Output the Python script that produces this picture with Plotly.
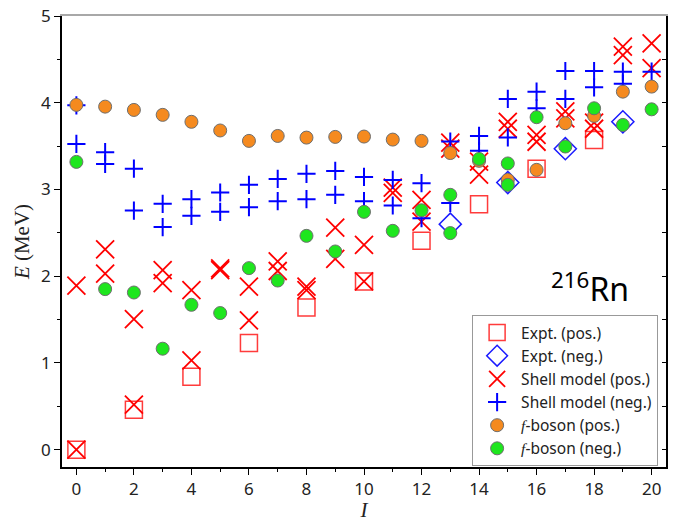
import plotly.graph_objects as go

# Experimental, positive parity
expt_pos_I = [0, 2, 4, 6, 8, 10, 12, 14, 16, 18]
expt_pos_E = [0.0, 0.46, 0.84, 1.23, 1.64, 1.94, 2.41, 2.83, 3.24, 3.57]

# Experimental, negative parity
expt_neg_I = [13, 15, 17, 19]
expt_neg_E = [2.60, 3.08, 3.47, 3.78]

# Shell model, positive parity
sm_pos_I = [0, 0, 1, 1, 2, 2, 3, 3, 4, 4, 5, 5, 6, 6, 7, 7, 8, 8, 9, 9, 10, 10,
            11, 11, 12, 12, 13, 13, 14, 14, 15, 15, 16, 16, 17, 17, 18, 18, 19, 19, 20, 20]
sm_pos_E = [0.0, 1.89, 2.03, 2.31, 0.52, 1.505, 1.92, 2.07, 1.03, 1.84, 2.07, 2.09,
            1.49, 1.88, 2.06, 2.17, 1.84, 1.88, 2.20, 2.56, 1.94, 2.36,
            2.96, 3.02, 2.63, 2.88, 3.47, 3.54, 3.17, 3.32, 3.70, 3.78, 3.55, 3.63,
            3.82, 3.90, 3.70, 3.77, 4.55, 4.646, 4.40, 4.685]

# Shell model, negative parity
sm_neg_I = [0, 0, 1, 1, 2, 2, 3, 3, 4, 4, 5, 5, 6, 6, 7, 7, 8, 8, 9, 9, 10, 10,
            11, 11, 12, 12, 13, 13, 14, 14, 15, 15, 16, 16, 17, 17, 18, 18, 19, 19, 20]
sm_neg_E = [3.525, 3.97, 3.295, 3.43, 2.757, 3.24, 2.566, 2.834, 2.696, 2.888,
            2.742, 2.965, 2.796, 3.053, 2.865, 3.122, 2.888, 3.18, 2.938, 3.214,
            2.865, 3.145, 2.815, 3.11, 2.669, 3.072, 2.845, 3.552, 3.445, 3.617,
            3.60, 4.044, 3.936, 4.128, 4.044, 4.366, 4.178, 4.366, 4.22, 4.358, 4.358]

# f-boson, positive parity
fb_pos_I = list(range(0, 21))
fb_pos_E = [3.975, 3.955, 3.917, 3.86, 3.78, 3.68, 3.56, 3.617, 3.598, 3.606, 3.61,
            3.575, 3.56, 3.42, 3.33, 3.11, 3.226, 3.764, 3.848, 4.128, 4.186]

# f-boson, negative parity
fb_neg_I = [0, 1, 2, 3, 4, 5, 6, 7, 8, 9, 10, 11, 12, 13, 13, 14, 15, 15, 16, 17, 18, 19, 20]
fb_neg_E = [3.318, 1.851, 1.812, 1.164, 1.67, 1.575, 2.093, 1.95, 2.465, 2.285,
            2.742, 2.523, 2.76, 2.938, 2.497, 3.352, 3.30, 3.053, 3.833, 3.495,
            3.936, 3.744, 3.924]

names = ["Expt. (pos.)", "Expt. (neg.)", "Shell model (pos.)", "Shell model (neg.)",
         "<i style='font-family:Liberation Serif'>f</i>-boson (pos.)",
         "<i style='font-family:Liberation Serif'>f</i>-boson (neg.)"]

fig = go.Figure()
# empty helper trace so the mirrored frame axes (top / right) get drawn
fig.add_trace(go.Scatter(x=[], y=[], xaxis="x2", yaxis="y2", mode="markers",
                         showlegend=False, hoverinfo="skip"))
fig.add_trace(go.Scatter(x=expt_pos_I, y=expt_pos_E, mode="markers", name=names[0],
                         marker=dict(symbol="square-open", size=17, color="#ff3b3b",
                                     line=dict(width=1.5, color="#ff3b3b"))))
fig.add_trace(go.Scatter(x=expt_neg_I, y=expt_neg_E, mode="markers", name=names[1],
                         marker=dict(symbol="diamond-open", size=17, color="#1a1aff",
                                     line=dict(width=1.5, color="#1a1aff"))))
fig.add_trace(go.Scatter(x=sm_pos_I, y=sm_pos_E, mode="markers", name=names[2],
                         marker=dict(symbol="x-thin", size=18, color="#ff0000",
                                     line=dict(width=1.8, color="#ff0000"))))
fig.add_trace(go.Scatter(x=sm_neg_I, y=sm_neg_E, mode="markers", name=names[3],
                         marker=dict(symbol="cross-thin", size=13, color="#0000ff",
                                     line=dict(width=2, color="#0000ff"))))
fig.add_trace(go.Scatter(x=fb_pos_I, y=fb_pos_E, mode="markers", name=names[4],
                         marker=dict(symbol="circle", size=13, color="#f58a1f",
                                     line=dict(width=1, color="#6e6e6e"))))
fig.add_trace(go.Scatter(x=fb_neg_I, y=fb_neg_E, mode="markers", name=names[5],
                         marker=dict(symbol="circle", size=13, color="#1ee61e",
                                     line=dict(width=1, color="#6e6e6e"))))

tickfont = dict(family="Noto Sans", size=17, color="#222222")

fig.update_layout(
    width=675, height=522,
    margin=dict(l=62, r=9, t=16, b=55),
    paper_bgcolor="white", plot_bgcolor="white",
    showlegend=True,
    legend=dict(x=0.679, y=0.337, xanchor="left", yanchor="top",
                bordercolor="#999999", borderwidth=1, bgcolor="white",
                font=dict(family="Noto Sans", size=15.5, color="#222222"),
                itemwidth=38, tracegroupgap=0),
    xaxis=dict(range=[-0.5, 20.5], tick0=0, dtick=2, ticks="outside", ticklen=6,
               tickwidth=1, tickcolor="black", showline=True, linecolor="black",
               linewidth=1.5, showgrid=False, zeroline=False, tickfont=tickfont,
               automargin=False,
               minor=dict(dtick=1, ticks="outside", ticklen=3, tickcolor="black"),
               title=dict(text="<i>I</i>", font=dict(family="Liberation Serif", size=21,
                                                     color="#222222"), standoff=2)),
    yaxis=dict(range=[-0.2, 5], tick0=0, dtick=1, ticks="outside", ticklen=6,
               tickwidth=1, tickcolor="black", showline=True, linecolor="black",
               linewidth=1.5, showgrid=False, zeroline=False, tickfont=tickfont,
               automargin=False,
               minor=dict(dtick=0.5, ticks="outside", ticklen=3, tickcolor="black"),
               title=dict(text="<i>E</i> (MeV)", font=dict(family="Liberation Serif", size=21,
                                                            color="#222222"), standoff=6)),
    xaxis2=dict(range=[-0.5, 20.5], overlaying="x", side="top", showline=True,
                linecolor="#a8a8a8", linewidth=1.5, ticks="", showticklabels=False,
                showgrid=False, zeroline=False, automargin=False),
    yaxis2=dict(range=[-0.2, 5], overlaying="y", side="right", showline=True,
                linecolor="black", linewidth=1.5, tick0=0, dtick=0.5, ticks="inside",
                ticklen=4, tickcolor="black", showticklabels=False, showgrid=False,
                zeroline=False, automargin=False),
    annotations=[dict(text="<sup>216</sup>Rn", xref="paper", yref="paper",
                      x=0.874, y=0.40, xanchor="center", yanchor="middle",
                      showarrow=False,
                      font=dict(family="Noto Sans", size=32, color="black"))],
)

fig.write_html("out.html", config={"displayModeBar": False},
               post_script="document.body.style.margin='0px';"
                           "document.body.style.overflow='hidden';")
